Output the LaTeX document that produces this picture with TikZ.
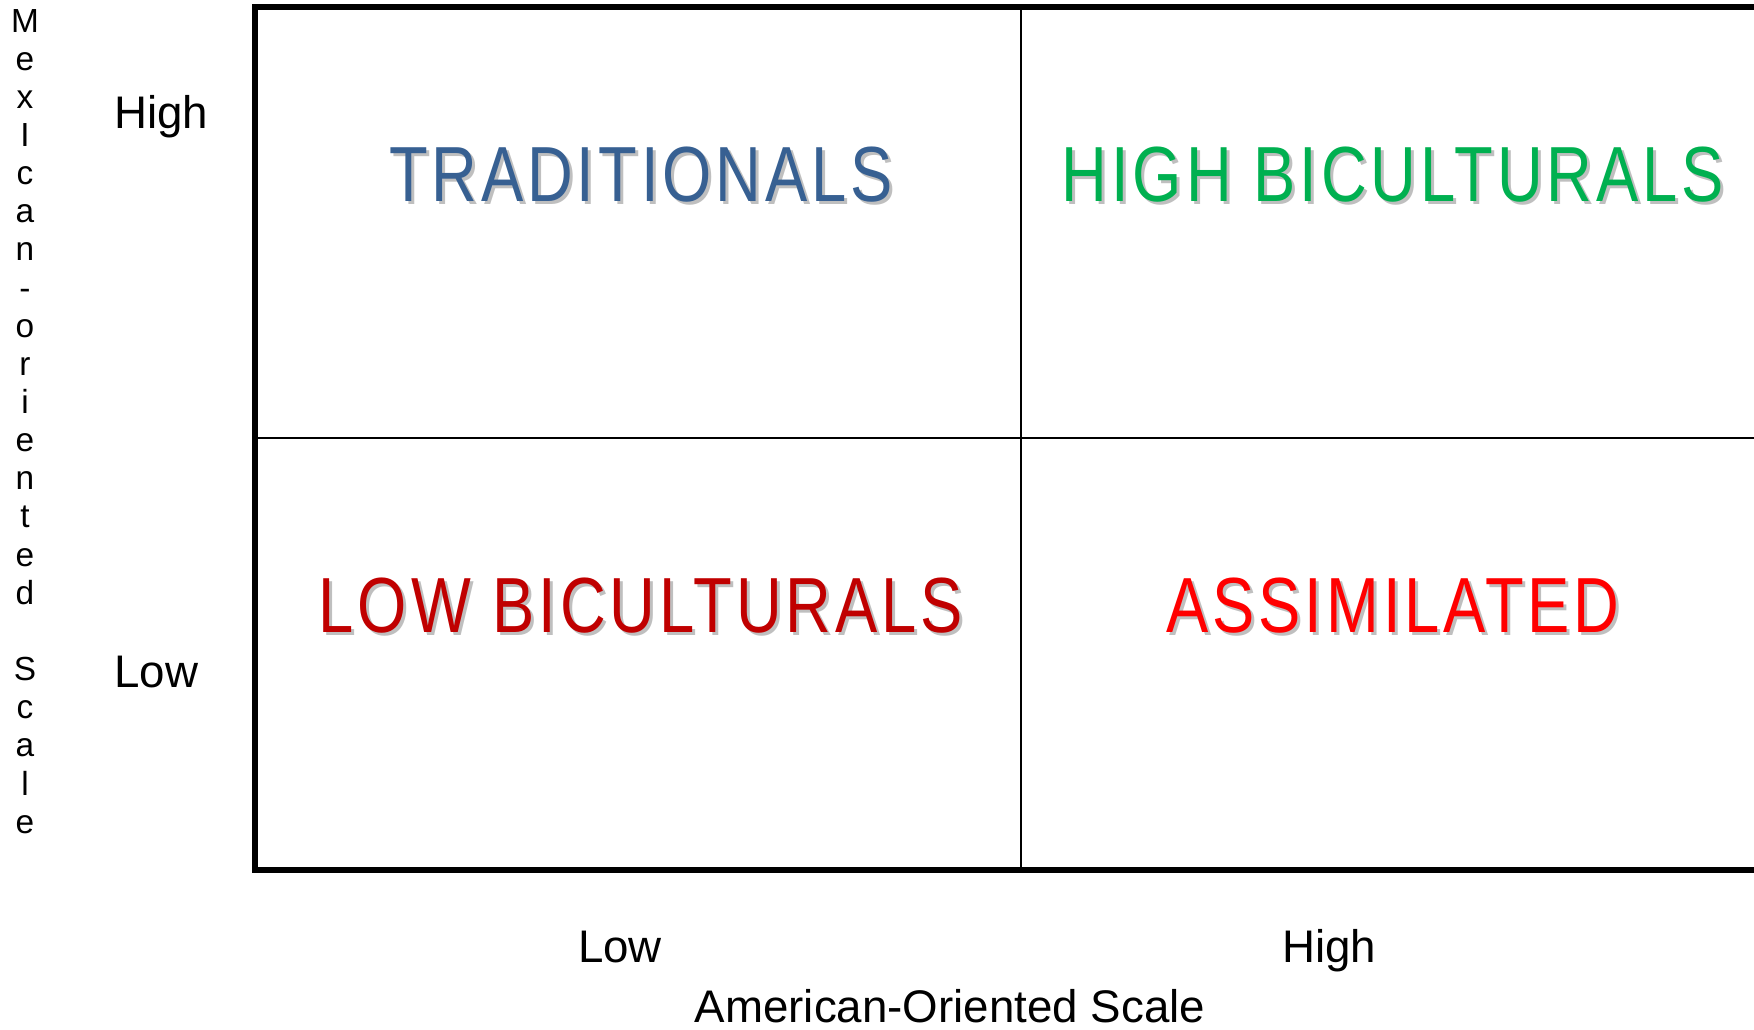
\documentclass[tikz,border=0pt]{standalone}
\usepackage{fontspec}
\setmainfont{Liberation Sans}
\newfontfamily\quadfont[FakeStretch=0.81, LetterSpace=5]{Liberation Sans}

\definecolor{tradblue}{HTML}{376092}
\definecolor{highgreen}{HTML}{00B050}
\definecolor{lowred}{HTML}{C00000}
\definecolor{assimred}{HTML}{FF0000}
\definecolor{shadowgray}{HTML}{BFBFBF}

\begin{document}
\begin{tikzpicture}[x=0.02cm,y=-0.02cm]
        \tikzstyle{every node}=[inner sep=0pt, anchor=base, text=black]
        \tikzstyle{axis}=[font=\fontsize{26}{26}\selectfont]
        \tikzstyle{letter}=[font=\fontsize{19}{19}\selectfont]
        \tikzstyle{quad}=[font=\quadfont\fontsize{44.5}{44.5}\selectfont]
        \tikzstyle{shade}=[quad, text=shadowgray]
        \tikzstyle{frame}=[black, line width=3.4pt]
        \tikzstyle{divider}=[black, line width=1.1pt]

        \useasboundingbox (0,0) rectangle (1754,1029);

        % grid corners and midpoints
        \coordinate (tl) at (255,7);
        \coordinate (tr) at (1754,7);
        \coordinate (bl) at (255,870);
        \coordinate (br) at (1754,870);
        \coordinate (mt) at (1021,7);
        \coordinate (mb) at (1021,870);
        \coordinate (ml) at (255,438);
        \coordinate (mr) at (1754,438);

        \draw[divider] (mt) -- (mb);
        \draw[divider] (ml) -- (mr);
        \draw[frame] (tr) -- (tl) -- (bl) -- (br);

        % quadrant names, shadow first
        \node[shade] (trad') at (644,204)  {TRADITIONALS};
        \node[shade] (high') at (1396,204) {HIGH BICULTURALS};
        \node[shade] (low')  at (644,635)  {LOW BICULTURALS};
        \node[shade] (assi') at (1396,635) {ASSIMILATED};

        \node[quad, text=tradblue]  (trad) at (641,201)  {TRADITIONALS};
        \node[quad, text=highgreen] (high) at (1393,201) {HIGH BICULTURALS};
        \node[quad, text=lowred]    (low)  at (641,632)  {LOW BICULTURALS};
        \node[quad, text=assimred]  (assi) at (1393,632) {ASSIMILATED};

        % vertical axis
        \node[axis, anchor=base west] (yhigh) at (114,128) {High};
        \node[axis, anchor=base west] (ylow)  at (114,687) {Low};
        \foreach \ch [count=\i from 0] in {M,e,x,I,c,a,n,-,o,r,i,e,n,t,e,d,{},S,c,a,l,e}
            \node[letter] (v\i) at (25,32+38.15*\i) {\ch};

        % horizontal axis
        \node[axis] (xlow)  at (620,962)  {Low};
        \node[axis] (xhigh) at (1329,962) {High};
        \node[axis] (xname) at (950,1022) {American-Oriented Scale};
\end{tikzpicture}
\end{document}
